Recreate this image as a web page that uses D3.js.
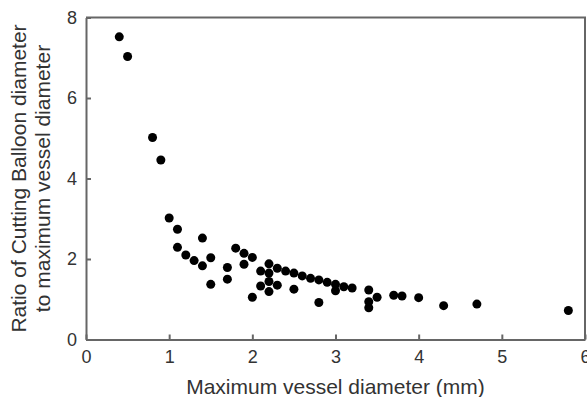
<!DOCTYPE html>
<html>
<head>
<meta charset="utf-8">
<script src="https://cdn.jsdelivr.net/npm/d3@7"></script>
<style>
  body { margin: 0; background: #fff; }
  svg { display: block; }
  .axis text { font-family: "Liberation Sans", Arial, sans-serif; font-size: 18px; fill: #333; }
  .axis path, .axis line { stroke: #666; stroke-width: 2; }
  .title { font-family: "Liberation Sans", Arial, sans-serif; font-size: 21px; fill: #333; }
</style>
</head>
<body>
<script>
// vessel diameter (mm) vs ratio of balloon / vessel diameter
var vesselDiam = [0.4, 0.5, 0.8, 0.9, 1.0, 1.1, 1.1, 1.2, 1.3, 1.4, 1.4, 1.5, 1.5,
  1.7, 1.7, 1.8, 1.9, 1.9, 2.0, 2.0, 2.1, 2.1, 2.2, 2.2, 2.2, 2.2, 2.3, 2.3,
  2.4, 2.5, 2.5, 2.6, 2.7, 2.8, 2.8, 2.9, 3.0, 3.0, 3.1, 3.2, 3.4, 3.4, 3.4,
  3.5, 3.7, 3.8, 4.0, 4.3, 4.7, 5.8];
var ratio = [7.52, 7.03, 5.02, 4.46, 3.02, 2.74, 2.29, 2.1, 1.96, 2.52, 1.83, 2.03, 1.37,
  1.79, 1.5, 2.27, 2.14, 1.87, 2.04, 1.05, 1.7, 1.33, 1.88, 1.65, 1.44, 1.19, 1.77, 1.35,
  1.7, 1.65, 1.25, 1.58, 1.52, 1.48, 0.92, 1.42, 1.37, 1.21, 1.31, 1.28, 1.23, 0.94, 0.79,
  1.05, 1.1, 1.08, 1.04, 0.84, 0.88, 0.72];
var xTicks = [0, 1, 2, 3, 4, 5, 6];
var yTicks = [0, 2, 4, 6, 8];

var width = 587, height = 397;
var margin = {top: 17.5, right: 2, bottom: 57.5, left: 86};

var svg = d3.select("body").append("svg")
  .attr("width", width)
  .attr("height", height);

var x = d3.scaleLinear().domain([0, 6]).range([margin.left, width - margin.right]);
var y = d3.scaleLinear().domain([0, 8]).range([height - margin.bottom, margin.top]);

var xAxis = d3.axisBottom(x).tickValues(xTicks).tickFormat(d3.format("d"))
  .tickSizeInner(-5).tickSizeOuter(0).tickPadding(11);
var yAxis = d3.axisLeft(y).tickValues(yTicks).tickFormat(d3.format("d"))
  .tickSizeInner(-5).tickSizeOuter(0).tickPadding(9);

svg.append("g")
  .attr("class", "x axis")
  .attr("transform", "translate(0," + y(0) + ")")
  .call(xAxis);
svg.append("g")
  .attr("class", "y axis")
  .attr("transform", "translate(" + x(0) + ",0)")
  .call(yAxis);

// frame: top and right edges
svg.append("path")
  .attr("d", "M" + x(0) + "," + y(8) + "H" + x(6) + "V" + y(0))
  .attr("fill", "none")
  .attr("stroke", "#666")
  .attr("stroke-width", 2);

svg.append("g")
  .selectAll("circle")
  .data(vesselDiam)
  .join("circle")
  .attr("cx", function(d) { return x(d); })
  .attr("cy", function(d, i) { return y(ratio[i]); })
  .attr("r", 4.5)
  .attr("fill", "#000");

svg.append("text")
  .attr("class", "title")
  .attr("x", (x(0) + x(6)) / 2)
  .attr("y", 393.5)
  .attr("text-anchor", "middle")
  .text("Maximum vessel diameter (mm)");

var yt = svg.append("text")
  .attr("class", "title")
  .attr("transform", "translate(0," + (y(0) + y(8)) / 2 + ") rotate(-90)")
  .attr("text-anchor", "middle");
yt.append("tspan").attr("x", 0).attr("y", 25.5).text("Ratio of Cutting Balloon diameter");
yt.append("tspan").attr("x", 0).attr("y", 50).text("to maximum vessel diameter");
</script>
</body>
</html>
